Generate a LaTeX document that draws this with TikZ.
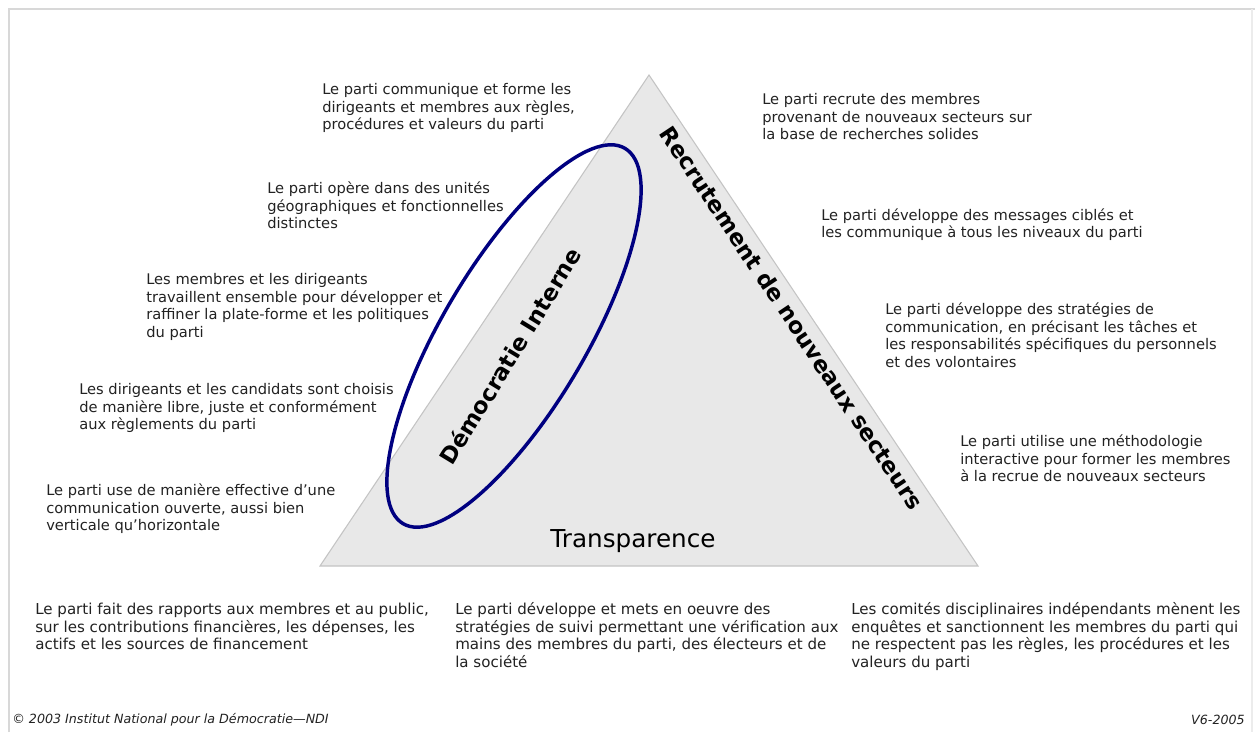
\documentclass[tikz,border=0pt]{standalone}
\usepackage{fontspec}
\setmainfont{DejaVu Sans}
\definecolor{trifill}{HTML}{E8E8E8}
\definecolor{triedge}{HTML}{C4C4C4}
\definecolor{ovalc}{HTML}{000080}
\definecolor{framec}{HTML}{D8D8D8}
\definecolor{txt}{HTML}{222222}
\newcommand\firstup{\rule{0pt}{11pt}}
\setlength{\lineskiplimit}{-20pt}
\begin{document}
\begin{tikzpicture}[x=0.75pt,y=-0.75pt,
  desc/.style={anchor=north west, inner sep=0pt, align=left, text=txt,
    font=\fontsize{11}{13.1}\selectfont},
  bdesc/.style={anchor=north west, inner sep=0pt, align=left, text=txt,
    font=\fontsize{11.3}{13.2}\selectfont},
  side/.style={inner sep=0pt, text=black, font=\bfseries\fontsize{17}{18}\selectfont},
  foot/.style={inner sep=0pt, text=txt, font=\itshape\fontsize{9.5}{11}\selectfont}]
\fill[white] (0,0) rectangle (1255,732);
\useasboundingbox (0,0) rectangle (1255,732);
% frame
\draw[framec, line width=2pt] (9,732) -- (9,9) -- (1255,9);
\draw[framec!50, line width=1pt] (1252,9) -- (1252,732);
% triangle
\coordinate (apex) at (649,75);
\coordinate (bl) at (320,566);
\coordinate (br) at (978,566);
\draw[fill=trifill, draw=triedge, line width=0.8pt] (apex) -- (bl) -- (br) -- cycle;
% oval
\begin{scope}[shift={(514,336)}, rotate=59.4]
  \draw[ovalc, line width=2.6pt] (0,0) ellipse [x radius=218, y radius=72];
\end{scope}
% labels on triangle
\node[side, rotate=-56.3] (recr) at (792,318) {Recrutement de nouveaux secteurs};
\node[side, rotate=58.6] (demo) at (510,356) {Démocratie Interne};
\node[inner sep=0pt, font=\fontsize{18.5}{20}\selectfont] (transp) at (633,541) {Transparence};
% left side texts
\node[desc] (t1) at (322,79.8) {\firstup Le parti communique et forme les\\dirigeants et membres aux règles,\\procédures et valeurs du parti};
\node[desc] (t3) at (267,178.8) {\firstup Le parti opère dans des unités\\géographiques et fonctionnelles\\distinctes};
\node[desc] (t5) at (146,269.8) {\firstup Les membres et les dirigeants\\travaillent ensemble pour développer et\\raffiner la plate-forme et les politiques\\du parti};
\node[desc] (t7) at (79,379.8) {\firstup Les dirigeants et les candidats sont choisis\\de manière libre, juste et conformément\\aux règlements du parti};
\node[desc] (t9) at (46,480.8) {\firstup Le parti use de manière effective d’une\\communication ouverte, aussi bien\\verticale qu’horizontale};
% right side texts
\node[desc] (t2) at (762,89.8) {\firstup Le parti recrute des membres\\provenant de nouveaux secteurs sur\\la base de recherches solides};
\node[desc] (t4) at (821,205.5) {\firstup Le parti développe des messages ciblés et\\les communique à tous les niveaux du parti};
\node[desc] (t6) at (885,299.8) {\firstup Le parti développe des stratégies de\\communication, en précisant les tâches et\\les responsabilités spécifiques du personnels\\et des volontaires};
\node[desc] (t8) at (960,431.8) {\firstup Le parti utilise une méthodologie\\interactive pour former les membres\\à la recrue de nouveaux secteurs};
% bottom texts
\node[bdesc] (b1) at (35,599.5) {\firstup Le parti fait des rapports aux membres et au public,\\sur les contributions financières, les dépenses, les\\actifs et les sources de financement};
\node[bdesc] (b2) at (455,599.5) {\firstup Le parti développe et mets en oeuvre des\\stratégies de suivi permettant une vérification aux\\mains des membres du parti, des électeurs et de\\la société};
\node[bdesc] (b3) at (851,599.5) {\firstup Les comités disciplinaires indépendants mènent les\\enquêtes et sanctionnent les membres du parti qui\\ne respectent pas les règles, les procédures et les\\valeurs du parti};
% footer
\node[foot, anchor=west] (copy) at (12,720) {© 2003 Institut National pour la Démocratie—NDI};
\node[foot, anchor=east] (ver) at (1245,720) {V6-2005};
\end{tikzpicture}
\end{document}
